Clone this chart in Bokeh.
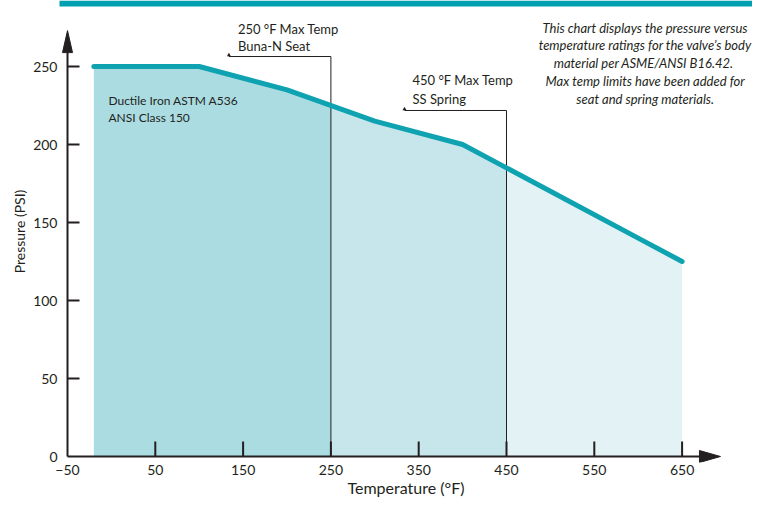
import numpy as np
from bokeh.plotting import figure
from bokeh.models import Label, FixedTicker, Range1d, BoxAnnotation
from bokeh.embed import file_html
from bokeh.resources import INLINE

# ---- data ----
temps = [-20, 100, 200, 300, 400, 450, 500, 600, 650]
pressures = [250, 250, 235, 215, 200, 185, 170, 140, 125]
seat_limit = 250
spring_limit = 450
x_ticks = [-50, 50, 150, 250, 350, 450, 550, 650]
y_ticks = [0, 50, 100, 150, 200, 250]
material_lines = ["Ductile Iron ASTM A536", "ANSI Class 150"]
seat_lines = ["250 °F Max Temp", "Buna-N Seat"]
spring_lines = ["450 °F Max Temp", "SS Spring"]
note_lines = [
    "This chart displays the pressure versus",
    "temperature ratings for the valve\u2019s body",
    "material per  ASME/ANSI B16.42.",
    "Max temp limits have been added for",
    "seat and spring materials.",
]

# ---- layout ----
W, H = 752, 500
ML, MR, MT, MB = 59, 0, 0, 38
fw = W - ML - MR
fh = H - MT - MB
ux = 1 / 0.878     # data units per pixel (x)
uy = 1 / 1.56      # data units per pixel (y)
PADX, PADY = 8, 6  # pixels between frame edge and drawn axis
X0 = x_ticks[0] - PADX * ux
X1 = X0 + fw * ux
Y0 = y_ticks[0] - PADY * uy
Y1 = Y0 + fh * uy

FONT = "Lato"
INK = "#231f20"
TEAL = "#0fa3b1"
FILLS = ["#abdce2", "#c7e6eb", "#e2f2f5"]

p = figure(width=W, height=H, x_range=Range1d(X0, X1), y_range=Range1d(Y0, Y1),
           output_backend="svg", toolbar_location=None,
           min_border_left=ML, min_border_right=MR, min_border_top=MT,
           min_border_bottom=MB)
p.grid.visible = False
p.outline_line_color = None
p.background_fill_color = "white"
p.border_fill_color = "white"

# axes (labels only; lines and ticks drawn below)
for ax, ticks in ((p.xaxis[0], x_ticks), (p.yaxis[0], y_ticks)):
    ax.ticker = FixedTicker(ticks=ticks)
    ax.axis_line_color = None
    ax.major_tick_line_color = None
    ax.major_tick_in = 0
    ax.major_tick_out = 0
    ax.minor_tick_line_color = None
    ax.major_label_text_font = FONT
    ax.major_label_text_font_size = "14px"
    ax.major_label_text_color = INK
    ax.axis_label_text_font = FONT
    ax.axis_label_text_font_style = "normal"
    ax.axis_label_text_color = INK
p.xaxis.axis_label_text_font_size = "16px"
p.yaxis.axis_label_text_font_size = "14px"
p.xaxis.major_label_standoff = 2
p.yaxis.major_label_standoff = 2
p.xaxis.axis_label_standoff = 0
p.yaxis.axis_label_standoff = 2
p.xaxis.axis_label = "Temperature (°F)"
p.yaxis.axis_label = "Pressure (PSI)"

# filled regions
bounds = [temps[0], seat_limit, spring_limit, temps[-1]]
for i in range(3):
    a, b = bounds[i], bounds[i + 1]
    xs = [a] + [t for t in temps if a < t < b] + [b]
    ys = np.interp(xs, temps, pressures)
    p.varea(x=xs, y1=0, y2=ys, fill_color=FILLS[i], fill_alpha=1)

# limit leader lines
lead_len = 102 * ux
seat_top, spring_top = 256.4, 221.8
for lim, top in ((seat_limit, seat_top), (spring_limit, spring_top)):
    p.segment(x0=[lim, lim - lead_len], y0=[0, top], x1=[lim, lim], y1=[top, top],
              line_color=INK, line_width=1)
    p.scatter(x=[lim - lead_len], y=[top + 1.5 * uy], marker="triangle", size=4,
              fill_color=INK, line_color=None)

# pressure line
p.line(temps, pressures, line_color=TEAL, line_width=5, line_cap="round",
       line_join="round")

# ticks
ax_x, ax_y = x_ticks[0], y_ticks[0]
xt = x_ticks[1:]
p.segment(x0=xt, y0=[ax_y] * len(xt), x1=xt, y1=[ax_y + 15 * uy] * len(xt),
          line_color=INK, line_width=2)
yt = y_ticks[1:]
p.segment(x0=[ax_x] * len(yt), y0=yt, x1=[ax_x + 12 * ux] * len(yt), y1=yt,
          line_color=INK, line_width=2)

# axis lines with arrows
y_tip = 273
y_base = y_tip - 22 * uy
x_tip = 693.7
x_base = x_tip - 21 * ux
p.segment(x0=[ax_x, ax_x], y0=[ax_y, ax_y], x1=[ax_x, x_base], y1=[y_base, ax_y],
          line_color=INK, line_width=2)
p.patch(x=[ax_x - 5 * ux, ax_x, ax_x + 5 * ux], y=[y_base, y_tip, y_base],
        fill_color=INK, line_color=INK, line_width=1)
p.patch(x=[x_base, x_tip, x_base], y=[ax_y - 6 * uy, ax_y, ax_y + 6 * uy],
        fill_color=INK, line_color=INK, line_width=1)

# annotation texts
def lab(x, y, text, xo=0, yo=0, align="left", style="normal", size="13px"):
    p.add_layout(Label(x=x, y=y, x_offset=xo, y_offset=yo, text=text,
                       text_font=FONT, text_font_size=size, text_color=INK,
                       text_align=align, text_baseline="middle",
                       text_font_style=style))

lab(-3.4, 228.2, material_lines[0], size="12px")
lab(-3.4, 217.3, material_lines[1], size="12px")
lab(seat_limit, seat_top, seat_lines[0], xo=-93, yo=28)
lab(seat_limit, seat_top, seat_lines[1], xo=-93, yo=11)
lab(spring_limit, spring_top, spring_lines[0], xo=-94, yo=30)
lab(spring_limit, spring_top, spring_lines[1], xo=-94, yo=11)
for i, t in enumerate(note_lines):
    lab(608, Y1, t, yo=-(27 + 17.75 * i), align="center", style="italic",
        size="13px")

# decorative top bar
p.add_layout(BoxAnnotation(left=-ML, right=fw + MR, top=fh, bottom=fh - 6,
                           left_units="screen", right_units="screen",
                           top_units="screen", bottom_units="screen",
                           fill_color="#00a0b0", fill_alpha=1, line_color=None))

open("out.html", "w").write(file_html(p, INLINE))
